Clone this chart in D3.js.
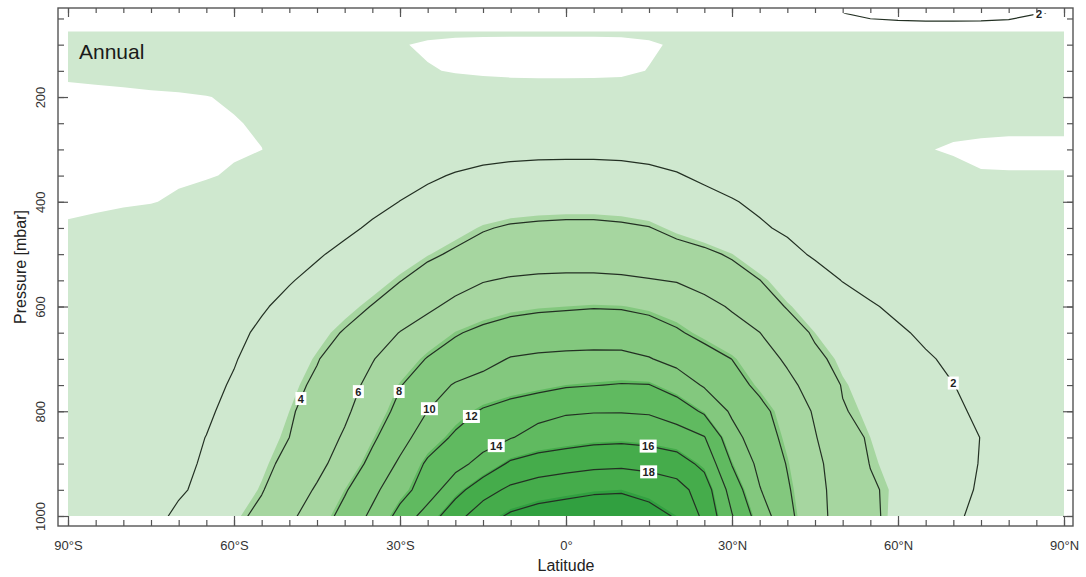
<!DOCTYPE html>
<html>
<head>
<meta charset="utf-8">
<script src="https://cdn.jsdelivr.net/npm/d3@7"></script>
<style>
  body { margin: 0; background: #fff; }
  svg { display: block; }
  text { font-family: "Liberation Sans", Arial, Helvetica, sans-serif; }
</style>
</head>
<body>
<svg id="chart" width="1086" height="577"></svg>
<script>
// Zonal-mean annual specific humidity [g/kg] on latitude x pressure grid
const latitudes = [-90,-85,-80,-75,-70,-65,-60,-55,-50,-45,-40,-35,-30,-25,-20,-15,-10,-5,0,
                   5,10,15,20,25,30,35,40,45,50,55,60,65,70,75,80,85,90];
const pressureLevels = [40,75,100,150,200,250,300,350,400,450,500,550,600,650,700,750,800,850,900,950,1000];

const q40   = [1.0,1.0,1.0,1.0,1.0,1.0,1.0,1.0,1.0,1.0,1.0,1.0,1.0,1.0,1.0,1.0,1.0,1.0,1.0,
               1.0,1.0,1.0,1.0,1.0,1.0,1.0,1.0,1.5,1.95,2.8,3.2,3.4,3.4,3.3,3.0,2.1,1.8];
const q75   = [0.15,0.15,0.15,0.15,0.15,0.15,0.15,0.15,0.15,0.15,0.15,0.15,0.145,0.14,0.135,0.133,0.133,0.133,0.133,
               0.133,0.135,0.14,0.145,0.15,0.15,0.15,0.15,0.15,0.15,0.15,0.15,0.15,0.15,0.15,0.15,0.15,0.15];
const q100  = [0.15,0.15,0.15,0.15,0.15,0.15,0.15,0.15,0.15,0.14,0.13,0.125,0.11,0.08,0.06,0.055,0.05,0.05,0.05,
               0.05,0.055,0.08,0.12,0.14,0.15,0.15,0.15,0.15,0.15,0.15,0.15,0.15,0.15,0.15,0.15,0.15,0.15];
const q150  = [0.13,0.14,0.15,0.17,0.19,0.2,0.2,0.2,0.19,0.18,0.17,0.15,0.14,0.11,0.09,0.075,0.065,0.06,0.06,
               0.062,0.07,0.105,0.12,0.14,0.15,0.15,0.15,0.15,0.15,0.15,0.15,0.15,0.15,0.15,0.15,0.15,0.15];
const q200  = [0.06,0.065,0.07,0.075,0.08,0.095,0.12,0.15,0.17,0.19,0.2,0.2,0.2,0.2,0.2,0.2,0.2,0.2,0.2,
               0.2,0.2,0.2,0.19,0.18,0.17,0.17,0.16,0.16,0.16,0.155,0.15,0.15,0.15,0.15,0.15,0.15,0.15];
const q250  = [0.05,0.05,0.055,0.06,0.065,0.075,0.09,0.12,0.17,0.22,0.3,0.4,0.5,0.62,0.75,0.85,0.9,0.92,0.93,
               0.92,0.9,0.85,0.72,0.55,0.4,0.3,0.24,0.2,0.17,0.15,0.14,0.13,0.125,0.12,0.12,0.12,0.12];
const q300  = [0.04,0.04,0.045,0.05,0.055,0.065,0.08,0.098,0.16,0.27,0.42,0.62,0.85,1.1,1.35,1.55,1.65,1.7,1.72,
               1.72,1.7,1.6,1.4,1.1,0.8,0.55,0.38,0.27,0.2,0.16,0.13,0.105,0.09,0.085,0.08,0.08,0.08];
const q350  = [0.05,0.05,0.055,0.06,0.07,0.085,0.12,0.2,0.35,0.55,0.8,1.1,1.45,1.8,2.1,2.3,2.4,2.45,2.45,
               2.45,2.4,2.3,2.1,1.75,1.4,1.05,0.75,0.5,0.35,0.25,0.18,0.15,0.13,0.105,0.105,0.105,0.105];
const q400  = [0.06,0.07,0.08,0.09,0.13,0.18,0.28,0.42,0.65,0.9,1.25,1.6,2.02,2.4,2.75,3.0,3.2,3.3,3.35,
               3.35,3.3,3.1,2.8,2.45,2.1,1.7,1.35,1.05,0.8,0.6,0.45,0.35,0.3,0.27,0.25,0.24,0.23];
const q450  = [0.12,0.14,0.17,0.22,0.3,0.4,0.55,0.75,1.0,1.3,1.7,2.2,2.6,3.05,3.45,3.9,4.15,4.25,4.3,
               4.3,4.2,4.05,3.6,3.15,2.7,2.2,1.75,1.35,1.05,0.8,0.6,0.45,0.35,0.3,0.25,0.22,0.2];
const q500  = [0.15,0.2,0.25,0.35,0.45,0.6,0.8,1.1,1.4,1.85,2.35,2.8,3.3,3.75,4.2,4.55,4.8,4.95,5.0,
               5.0,4.9,4.7,4.55,4.3,3.82,3.15,2.45,1.8,1.35,1.0,0.75,0.55,0.45,0.35,0.3,0.25,0.25];
const q550  = [0.25,0.3,0.4,0.5,0.6,0.8,1.0,1.4,1.9,2.4,2.9,3.4,3.95,4.6,5.25,5.9,6.2,6.35,6.4,
               6.4,6.3,6.1,5.9,5.3,4.65,4.02,3.3,2.65,1.95,1.5,1.15,0.9,0.75,0.6,0.5,0.45,0.4];
const q600  = [0.3,0.35,0.5,0.7,0.9,1.15,1.45,1.85,2.4,2.95,3.5,4.05,4.85,5.65,6.5,7.1,7.5,7.7,7.8,
               7.9,7.85,7.6,7.2,6.6,5.8,4.8,3.9,3.3,2.7,2.15,1.7,1.4,1.15,0.95,0.8,0.7,0.65];
const q650  = [0.35,0.45,0.6,0.85,1.05,1.3,1.65,2.25,2.85,3.5,4.1,5.1,6.05,6.9,7.85,8.4,8.8,9.0,9.1,
               9.15,9.1,8.8,8.2,7.5,6.75,6.02,4.75,3.8,3.3,2.75,2.2,1.75,1.4,1.15,0.95,0.85,0.8];
const q700  = [0.4,0.5,0.7,0.95,1.2,1.4,1.9,2.6,3.3,3.9,4.9,5.9,7.0,8.1,8.75,9.45,10.1,10.3,10.4,
               10.45,10.45,10.1,9.4,8.7,7.98,6.9,5.7,4.3,3.6,3.1,2.6,2.15,1.75,1.45,1.2,1.05,1.0];
const q750  = [0.45,0.55,0.8,1.1,1.35,1.6,2.15,2.8,3.5,4.3,5.3,6.5,7.9,9.2,10.15,10.6,11.0,11.4,11.8,
               11.95,12.1,12.05,11.1,9.8,8.7,7.6,6.5,5.2,3.9,3.4,2.9,2.5,2.02,1.6,1.35,1.2,1.1];
const q800  = [0.5,0.6,0.9,1.2,1.5,1.8,2.4,3.1,3.8,4.7,5.7,7.0,8.5,10.02,11.2,12.2,12.9,13.4,13.8,
               13.9,13.9,13.8,13.1,11.7,9.7,8.5,7.2,5.8,4.1,3.6,3.1,2.7,2.2,1.8,1.5,1.3,1.2];
const q850  = [0.6,0.7,1.0,1.3,1.6,2.02,2.7,3.4,4.0,5.1,6.2,7.7,9.3,11.0,12.3,13.1,13.9,14.7,15.1,
               15.4,15.5,15.3,14.9,14.1,10.7,8.9,7.55,6.1,4.7,3.8,3.3,2.9,2.4,1.98,1.6,1.4,1.3];
const q900  = [0.7,0.8,1.1,1.4,1.6,2.2,2.9,3.6,4.4,5.5,6.8,8.5,10.3,12.3,13.3,14.7,16.3,16.9,17.2,
               17.5,17.6,17.4,16.9,15.5,11.9,9.5,7.9,6.4,5.1,3.95,3.45,2.9,2.4,1.95,1.6,1.4,1.3];
const q950  = [0.7,0.8,1.1,1.5,1.8,2.4,3.2,3.9,5.0,6.2,7.8,9.5,11.3,12.9,15.3,17.2,18.4,19.0,19.4,
               19.7,19.8,19.3,18.8,17.0,13.2,10.1,8.2,6.5,5.3,4.2,3.6,3.0,2.4,1.85,1.55,1.35,1.25];
const q1000 = [0.6,0.7,1.0,1.5,2.3,3.0,3.6,4.4,5.6,7.0,8.6,10.4,12.6,14.9,17.3,19.1,20.3,20.9,21.1,
               21.3,21.3,20.8,19.8,17.6,14.1,11.1,8.5,6.6,5.3,4.3,3.5,2.8,2.2,1.7,1.4,1.2,1.1];

// Shading bands and contour lines
const fillLevels = [0.1, 3.8, 7.8, 11.8, 15.8, 19.8];
const fillColors = ["#cfe8cf", "#a6d6a0", "#83c87e", "#60ba60", "#45ac4b", "#31a040"];
const lineLevels = [2, 4, 6, 8, 10, 12, 14, 16, 18, 20];

// Contour labels: level and approximate spot (latitude, pressure)
const labelLevels    = [2, 4, 6, 8, 10, 12, 14, 16, 18, 2];
const labelLats      = [70, -47.4, -37.4, -30, -24.8, -17.5, -12.5, 14.8, 14.8, 85.5];
const labelPressures = [746, 778, 763, 763, 794, 805, 868, 872, 927, 44];

// Axes
const latTicks = [-90, -60, -30, 0, 30, 60, 90];
const latTickLabels = ["90°S", "60°S", "30°S", "0°", "30°N", "60°N", "90°N"];
const pressureTicks = [200, 400, 600, 800, 1000];

const svg = d3.select("#chart");
const frame = { left: 58, right: 1073, top: 8, bottom: 526 };
const x = d3.scaleLinear().domain([-90, 90]).range([68, 1064]);
const y = d3.scaleLinear().domain([30, 1000]).range([8, 516]);

// Grid padded by one cell on each side (edge values repeated) so the
// contouring reaches the plot edges; the padding is clipped away.
const rows = [q40, q75, q100, q150, q200, q250, q300, q350, q400, q450, q500,
              q550, q600, q650, q700, q750, q800, q850, q900, q950, q1000];
const padLat = [latitudes[0] - 5, ...latitudes, latitudes[latitudes.length - 1] + 5];
const padP = [pressureLevels[0] - (pressureLevels[1] - pressureLevels[0]), ...pressureLevels,
              pressureLevels[pressureLevels.length - 1] + 50];
const nx = padLat.length, ny = padP.length;
const grid = [];
[rows[0], ...rows, rows[rows.length - 1]].forEach(r => {
  grid.push(r[0], ...r, r[r.length - 1]);
});

function gridToPixel(cx, cy) {
  const fx = cx - 0.5, fy = cy - 0.5;
  const i0 = Math.max(0, Math.min(nx - 2, Math.floor(fx)));
  const lat = padLat[i0] + (fx - i0) * (padLat[i0 + 1] - padLat[i0]);
  const j0 = Math.max(0, Math.min(ny - 2, Math.floor(fy)));
  const p = padP[j0] + (fy - j0) * (padP[j0 + 1] - padP[j0]);
  return [x(lat), y(p)];
}
const projection = d3.geoTransform({
  point(cx, cy) { const q = gridToPixel(cx, cy); this.stream.point(q[0], q[1]); }
});
const path = d3.geoPath(projection);

const defs = svg.append("defs");
defs.append("clipPath").attr("id", "fillClip").append("rect")
  .attr("x", x(-90)).attr("y", y(75)).attr("width", x(90) - x(-90)).attr("height", y(1000) - y(75));
defs.append("clipPath").attr("id", "lineClip").append("rect")
  .attr("x", x(-90)).attr("y", y(40)).attr("width", x(90) - x(-90)).attr("height", y(1000) - y(40));

// Filled bands
const fillGeo = d3.contours().size([nx, ny]).thresholds(fillLevels)(grid);
svg.append("g").attr("clip-path", "url(#fillClip)")
  .selectAll("path").data(fillGeo).join("path")
  .attr("d", path)
  .attr("fill", (d, i) => fillColors[i])
  .attr("stroke", "none");

// Contour lines
const lineGeo = d3.contours().size([nx, ny]).thresholds(lineLevels)(grid);
svg.append("g").attr("clip-path", "url(#lineClip)")
  .selectAll("path").data(lineGeo).join("path")
  .attr("d", path)
  .attr("fill", "none")
  .attr("stroke", "#233023")
  .attr("stroke-width", 1.2)
  .attr("stroke-linejoin", "round");

// Contour labels, snapped onto the nearest point of their line
function nearestOnLevel(level, ax, ay) {
  const g = lineGeo.find(c => c.value === level);
  let best = null, bestD = Infinity;
  const xmin = x(-90), xmax = x(90), ymin = y(40), ymax = y(1000);
  g.coordinates.forEach(poly => poly.forEach(ring => {
    const pts = ring.map(c => gridToPixel(c[0], c[1]));
    for (let k = 0; k < pts.length - 1; k++) {
      const [x1, y1] = pts[k], [x2, y2] = pts[k + 1];
      const dx = x2 - x1, dy = y2 - y1, len2 = dx * dx + dy * dy;
      let t = len2 ? ((ax - x1) * dx + (ay - y1) * dy) / len2 : 0;
      t = Math.max(0, Math.min(1, t));
      const px = x1 + t * dx, py = y1 + t * dy;
      if (px < xmin || px > xmax || py < ymin || py > ymax) continue;
      const d = (px - ax) ** 2 + (py - ay) ** 2;
      if (d < bestD) { bestD = d; best = [px, py]; }
    }
  }));
  return best || [ax, ay];
}
const labelG = svg.append("g");
labelLevels.forEach((lv, i) => {
  const [px, py] = nearestOnLevel(lv, x(labelLats[i]), y(labelPressures[i]));
  const txt = String(lv);
  const w = txt.length === 1 ? 11 : 17;
  const g = labelG.append("g").attr("transform", `translate(${px},${py})`);
  g.append("rect").attr("x", -w / 2).attr("y", -6.5).attr("width", w).attr("height", 13)
    .attr("fill", "#fff");
  g.append("text").attr("text-anchor", "middle").attr("dy", "0.36em")
    .attr("font-size", 11).attr("font-weight", "bold").attr("fill", "#222").text(txt);
});

// Frame
svg.append("rect")
  .attr("x", frame.left).attr("y", frame.top)
  .attr("width", frame.right - frame.left).attr("height", frame.bottom - frame.top)
  .attr("fill", "none").attr("stroke", "#555").attr("stroke-width", 1.4);

function styleAxis(g) {
  g.select(".domain").remove();
  g.selectAll("line").attr("stroke", "#555").attr("stroke-width", 1.2);
}
const minorLat = d3.range(-90, 91, 5);
const minorP = d3.range(50, 1001, 50);

// Bottom axis with labels
svg.append("g").attr("transform", `translate(0,${frame.bottom})`)
  .call(d3.axisBottom(x).tickValues(minorLat).tickSize(-6).tickFormat(""))
  .call(styleAxis);
const bottomMajor = svg.append("g").attr("transform", `translate(0,${frame.bottom})`)
  .call(d3.axisBottom(x).tickValues(latTicks).tickSize(-10).tickPadding(15)
    .tickFormat((d, i) => latTickLabels[i]))
  .call(styleAxis);
bottomMajor.selectAll("text").attr("font-size", 13).attr("fill", "#333")
  .attr("font-family", "'Liberation Sans', Arial, sans-serif");

// Top axis
svg.append("g").attr("transform", `translate(0,${frame.top})`)
  .call(d3.axisTop(x).tickValues(minorLat).tickSize(-5).tickFormat(""))
  .call(styleAxis);
svg.append("g").attr("transform", `translate(0,${frame.top})`)
  .call(d3.axisTop(x).tickValues(latTicks).tickSize(-9).tickFormat(""))
  .call(styleAxis);

// Left axis with rotated labels
svg.append("g").attr("transform", `translate(${frame.left},0)`)
  .call(d3.axisLeft(y).tickValues(minorP).tickSize(-6).tickFormat(""))
  .call(styleAxis);
const leftMajor = svg.append("g").attr("transform", `translate(${frame.left},0)`)
  .call(d3.axisLeft(y).tickValues(pressureTicks).tickSize(-10).tickFormat(d3.format("d")))
  .call(styleAxis);
leftMajor.selectAll("text")
  .attr("transform", "rotate(-90)")
  .attr("x", 0).attr("y", -13).attr("dy", 0)
  .attr("text-anchor", "middle")
  .attr("font-size", 13).attr("fill", "#333")
  .attr("font-family", "'Liberation Sans', Arial, sans-serif");

// Right axis
svg.append("g").attr("transform", `translate(${frame.right},0)`)
  .call(d3.axisRight(y).tickValues(minorP).tickSize(-6).tickFormat(""))
  .call(styleAxis);
svg.append("g").attr("transform", `translate(${frame.right},0)`)
  .call(d3.axisRight(y).tickValues(pressureTicks).tickSize(-10).tickFormat(""))
  .call(styleAxis);

// Titles
svg.append("text").attr("x", x(0)).attr("y", 571).attr("text-anchor", "middle")
  .attr("font-size", 16).attr("fill", "#222").text("Latitude");
svg.append("text").attr("transform", `translate(26,${(frame.top + frame.bottom) / 2}) rotate(-90)`)
  .attr("text-anchor", "middle").attr("font-size", 16).attr("fill", "#222").text("Pressure [mbar]");
svg.append("text").attr("x", 79).attr("y", 59)
  .attr("font-size", 21).attr("fill", "#1a1a1a").text("Annual");
</script>
</body>
</html>
